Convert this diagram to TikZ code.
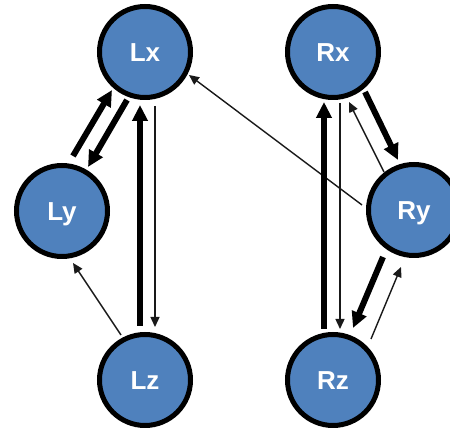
\documentclass[tikz,border=0pt]{standalone}
\usepackage{fontspec}
\setmainfont{Liberation Sans}
\usetikzlibrary{arrows.meta,calc}
\definecolor{nodeblue}{HTML}{4F81BD}
\begin{document}
\begin{tikzpicture}[x=1pt,y=1pt,
  vnode/.style={circle,draw=black,line width=5pt,fill=nodeblue,minimum size=91pt,inner sep=0pt,
    text=white,font=\fontsize{26}{30}\selectfont\bfseries,text height=18.5pt,text depth=0pt},
  thickarr/.style={line width=6pt,draw=black,-{Triangle[length=16pt,width=15pt]}},
  thinarr/.style={line width=1.4pt,draw=black!90,-{Triangle[length=10pt,width=9pt]}}]
\useasboundingbox (0,0) rectangle (450,430);
\clip (0,0) rectangle (450,430);
\node[vnode] (Lx) at (145,378) {Lx};
\node[vnode] (Rx) at (333,378) {Rx};
\node[vnode] (Ly) at (62,219) {Ly};
\node[vnode] (Ry) at (414,220) {Ry};
\node[vnode] (Lz) at (145,50) {Lz};
\node[vnode] (Rz) at (333,50) {Rz};
% left side
\draw[thickarr] ($(Ly)+(11,55)$) -- ($(Lx)+(-33,-38)$);
\draw[thickarr] ($(Lx)+(-18,-48)$) -- ($(Ly)+(26,44)$);
\draw[thickarr] ($(Lz)+(-5,54)$) -- ($(Lx)+(-5,-53)$);
\draw[thinarr] ($(Lx)+(10,-54)$) -- ($(Lz)+(10,53)$);
\draw[thinarr] ($(Lz)+(-24,45)$) -- ($(Ly)+(11,-52)$);
% cross
\draw[thinarr] ($(Ry)+(-52,5)$) -- ($(Lx)+(44,-23)$);
% right side
\draw[thickarr] ($(Rx)+(32,-40)$) -- ($(Ry)+(-16,50)$);
\draw[thinarr] ($(Ry)+(-30,38)$) -- ($(Rx)+(16,-50)$);
\draw[thickarr] ($(Rz)+(-9,51)$) -- ($(Rx)+(-9,-50)$);
\draw[thinarr] ($(Rx)+(7,-51)$) -- ($(Rz)+(7,51)$);
\draw[thickarr] ($(Ry)+(-31,-47)$) -- ($(Rz)+(20,52)$);
\draw[thinarr] ($(Rz)+(38,41)$) -- ($(Ry)+(-13,-57)$);
\end{tikzpicture}
\end{document}
